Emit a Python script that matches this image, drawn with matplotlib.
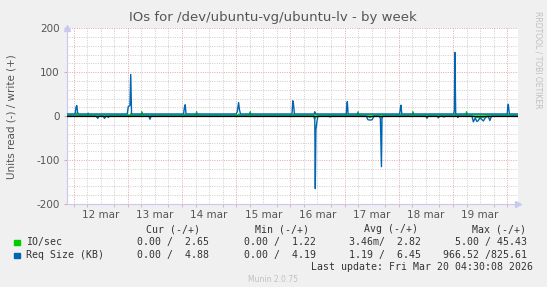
import numpy as np
import matplotlib.pyplot as plt
from matplotlib.ticker import MultipleLocator

# === Data (x = days since 12 mar 00:00) ===
day_labels = ["12 mar", "13 mar", "14 mar", "15 mar", "16 mar", "17 mar", "18 mar", "19 mar"]

# Req Size (KB), write (+)
req_w_t = [-0.13, 0.03, 0.045, 0.06, 0.075, 0.09, 0.99, 1.01, 1.04, 1.055, 1.07,
           2.03, 2.045, 2.06, 2.075, 3.0, 3.02, 3.045, 3.06, 3.08,
           4.03, 4.045, 4.055, 4.075, 4.44, 4.45, 4.47,
           5.03, 5.04, 5.05, 5.065, 6.015, 6.03, 6.04, 6.055,
           7.01, 7.025, 7.035, 7.05, 8.0, 8.01, 8.02, 8.04, 8.2]
req_w_v = [5, 5, 20, 24, 8, 5, 5, 22, 24, 95, 5,
           5, 20, 26, 5, 5, 10, 31, 15, 5,
           5, 35, 30, 5, 5, 10, 5,
           5, 20, 33, 5, 5, 18, 25, 5,
           5, 12, 145, 5, 5, 20, 27, 5, 5]

# Req Size (KB), read (-)
req_r_t = [-0.13, 0.42, 0.446, 0.47, 0.55, 0.57, 0.6, 0.63, 0.64, 0.66, 1.39, 1.41, 1.43,
           4.43, 4.45, 4.46, 4.47, 4.49, 4.51, 4.72, 4.73, 4.74,
           5.40, 5.43, 5.47, 5.51, 5.54, 5.64, 5.66, 5.68, 5.69, 5.71,
           6.50, 6.52, 6.54, 6.71, 6.73, 6.75, 6.82, 6.83, 6.85, 7.08, 7.09, 7.1,
           7.35, 7.376, 7.41, 7.44, 7.46, 7.5, 7.56, 7.6, 7.65, 7.68, 7.71, 8.2]
req_r_v = [0, 0, -5, 0, 0, -5, 0, 0, -3, 0, 0, -7, 0,
           0, -8, -165, -32, -12, 0, 0, -2, 0,
           0, -8, -9, -8, 0, 0, -5, -115, -5, 0,
           0, -5, 0, 0, -4, 0, 0, -2, 0, 0, -3, 0,
           0, -13, -4, -12, -11, -4, -11, -3, 0, -10, 0, 0]

# IO/sec, write (+)
io_w_t = [-0.13, 0.05, 0.06, 0.07, 0.26, 0.27, 0.28, 1.05, 1.06, 1.07, 1.25, 1.26, 1.27,
          2.05, 2.06, 2.07, 2.26, 2.27, 2.28, 3.04, 3.05, 3.06, 3.25, 3.26, 3.27,
          4.05, 4.06, 4.07, 5.04, 5.05, 5.06, 5.24, 5.25, 5.26, 6.03, 6.04, 6.05,
          6.25, 6.26, 6.27, 7.03, 7.04, 7.05, 7.24, 7.25, 7.26, 8.01, 8.02, 8.03, 8.2]
io_w_v = [2.8, 2.8, 7, 2.8, 2.8, 7, 2.8, 2.8, 6, 2.8, 2.8, 10, 2.8,
          2.8, 5, 2.8, 2.8, 10, 2.8, 2.8, 5, 2.8, 2.8, 10, 2.8,
          2.8, 5, 2.8, 2.8, 5, 2.8, 2.8, 10, 2.8, 2.8, 5, 2.8,
          2.8, 10, 2.8, 2.8, 6, 2.8, 2.8, 10, 2.8, 2.8, 5, 2.8, 2.8]

# IO/sec, read (-)
io_r_t = [-0.13, 0.43, 0.446, 0.46, 1.40, 1.41, 1.42, 4.44, 4.46, 4.48,
          5.42, 5.47, 5.52, 5.67, 5.68, 5.69, 7.37, 7.44, 7.56, 7.6, 8.2]
io_r_v = [0, 0, -3, 0, 0, -3, 0, 0, -5, 0,
          0, -3, 0, 0, -4, 0, 0, -3, -3, 0, 0]

legend_names = ["IO/sec", "Req Size (KB)"]
legend_colors = ["#00CC00", "#0066B3"]
stat_heads = ["Cur (-/+)", "Min (-/+)", "Avg (-/+)", "Max (-/+)"]
stat_io = ["0.00 /  2.65", "0.00 /  1.22", "3.46m/  2.82", "5.00 / 45.43"]
stat_req = ["0.00 /  4.88", "0.00 /  4.19", "1.19 /  6.45", "966.52 /825.61"]

W, H = 547, 287
fig = plt.figure(figsize=(W / 100, H / 100), dpi=100, facecolor="#F0F0F0")
x0, x1, ytop, ybot = 66.5, 517.5, 28.3, 204.0
ax = fig.add_axes([x0 / W, (H - ybot) / H, (x1 - x0) / W, (ybot - ytop) / H])
ax.set_facecolor("white")
ax.set_xlim(-0.13, 8.19)
ax.set_ylim(-200, 200)

# === Grid (red = major, gray = minor) ===
dots = (0, (1, 1.4))
for d in np.arange(0, 6 * 4 * 9) / 4:
    if d % 1 == 0:
        ax.axvline(d, color="#E0A8A8", lw=0.7, ls=dots, zorder=1)
    elif d < 8.19:
        ax.axvline(d, color="#CCCCCC", lw=0.7, ls=dots, zorder=1)
for yv in range(-200, 201, 20):
    c = "#E0A8A8" if yv % 100 == 0 else "#CCCCCC"
    ax.axhline(yv, color=c, lw=0.7, ls=dots, zorder=1)

# === Lines (IO/sec drawn first, Req Size on top, like munin) ===
ax.plot(io_w_t, io_w_v, color="#00CC00", lw=1, zorder=3)
ax.plot(io_r_t, io_r_v, color="#00CC00", lw=1, zorder=3)
ax.plot(req_w_t, req_w_v, color="#0066B3", lw=1, zorder=4)
ax.plot(req_r_t, req_r_v, color="#0066B3", lw=1, zorder=4)
ax.axhline(0, color="black", lw=0.9, zorder=5)

# === Axes ===
for s in ["top", "right"]:
    ax.spines[s].set_visible(False)
for s in ["left", "bottom"]:
    ax.spines[s].set_color("#C8C8F0")
    ax.spines[s].set_linewidth(0.8)
ax.plot([0], [1], marker="^", color="#C8C8F0", ms=5, transform=ax.transAxes, clip_on=False)
ax.plot([1], [0], marker=">", color="#C8C8F0", ms=5, transform=ax.transAxes, clip_on=False)

ax.set_xticks(np.arange(len(day_labels)) + 0.5)
ax.set_xticklabels(day_labels)
ax.xaxis.set_minor_locator(MultipleLocator(0.25))
ax.set_yticks([-200, -100, 0, 100, 200])
ax.set_yticklabels(["-200", "-100", "0", "100", "200"])
ax.tick_params(axis="x", which="major", length=0, pad=4, labelsize=7.5, labelcolor="#555555")
ax.tick_params(axis="x", which="minor", length=2, color="#E0A8A8")
ax.tick_params(axis="y", length=2, color="#E0A8A8", pad=3, labelsize=7.5, labelcolor="#555555")
ax.set_ylabel("Units read (-) / write (+)", fontsize=7.5, color="#555555", labelpad=14)

fig.text(273 / W, 1 - 18 / H, "IOs for /dev/ubuntu-vg/ubuntu-lv - by week",
         ha="center", va="center", fontsize=9.5, color="#555555")
fig.text(538 / W, 1 - 60 / H, "RRDTOOL / TOBI OETIKER", rotation=270,
         ha="center", va="center", fontsize=5.5, color="#C0C0C0")

# === Legend ===
mono = dict(family="DejaVu Sans Mono", fontsize=7.1, color="#333333", va="center")
for xc, txt in zip([173, 282, 391, 499.5], stat_heads):
    fig.text(xc / W, 1 - 229 / H, txt, ha="center", **mono)
rows_y = [242.3, 255.0]
for ry, name, col, stats in zip(rows_y, legend_names, legend_colors, [stat_io, stat_req]):
    fig.patches.append(plt.Rectangle((14 / W, 1 - (ry + 3) / H), 5.5 / W, 5.5 / H,
                                     transform=fig.transFigure, color=col))
    fig.text(26 / W, 1 - ry / H, name, ha="left", **mono)
    for xr, s in zip([209.4, 315.8, 421, 527], stats):
        fig.text(xr / W, 1 - ry / H, s, ha="right", **mono)
fig.text(533 / W, 1 - 267 / H, "Last update: Fri Mar 20 04:30:08 2026", ha="right", **mono)
fig.text(273 / W, 1 - 280 / H, "Munin 2.0.75", ha="center", va="center",
         fontsize=5.5, color="#C0C0C0")

plt.savefig("out.png", dpi=100, facecolor=fig.get_facecolor())
